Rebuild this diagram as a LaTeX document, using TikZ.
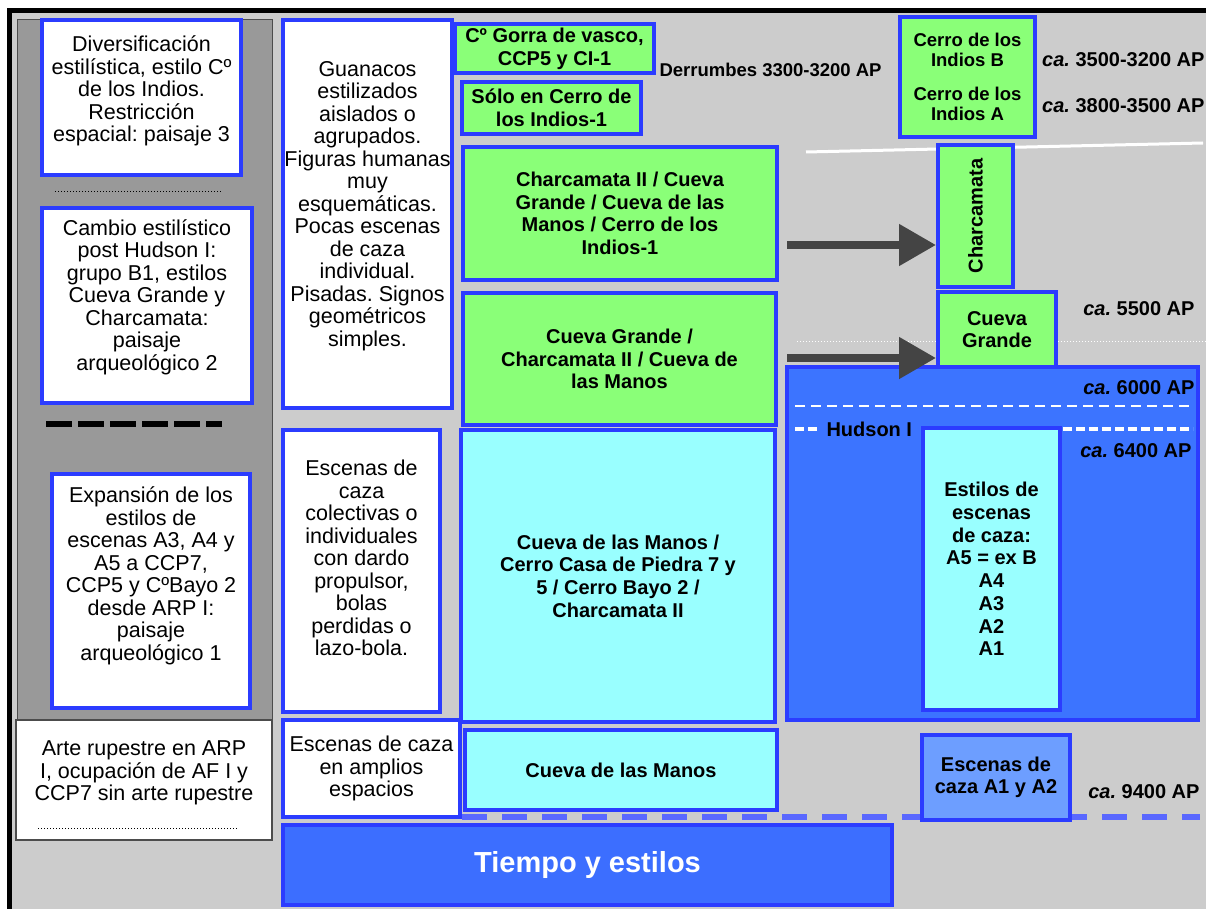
\documentclass[tikz,border=0pt]{standalone}
\usepackage{fontspec}
\setmainfont{Liberation Sans}
\usetikzlibrary{arrows.meta}
\definecolor{boxblue}{HTML}{2B3CFF}
\definecolor{boxgreen}{HTML}{8AFF78}
\definecolor{boxcyan}{HTML}{99FFFF}
\definecolor{bigblue}{HTML}{3C74FF}
\definecolor{timeblue}{HTML}{3C6EFF}
\definecolor{lowblue}{HTML}{6D9EFF}
\definecolor{dashblue}{HTML}{5A68FF}
\definecolor{bglight}{HTML}{CCCCCC}
\definecolor{panelgrey}{HTML}{999999}
\definecolor{arrowgrey}{HTML}{444444}
\newcommand{\regtxt}{\frenchspacing\fontsize{21.5}{22.5}\selectfont}
\newcommand{\boldtxt}{\frenchspacing\bfseries\fontsize{20}{22.7}\selectfont}
\newcommand{\smalltxt}{\frenchspacing\bfseries\fontsize{18.5}{20}\selectfont}

\begin{document}
\begin{tikzpicture}[x=1pt,y=-1pt,line width=1pt,
  box/.style={draw=boxblue,line width=4pt,inner sep=0pt,align=center},
  whitebox/.style={box,fill=white,font=\regtxt},
  greenbox/.style={box,fill=boxgreen,font=\boldtxt},
  cyanbox/.style={box,fill=boxcyan,font=\boldtxt},
  txt/.style={align=center,font=\regtxt,inner sep=0pt},
  datelabel/.style={font=\boldtxt,inner sep=0pt},
  bigarrow/.style={draw=arrowgrey,line width=8pt,-{Triangle[length=37pt,width=40pt]}}]
  \useasboundingbox (0,0) rectangle (1206,909);
  % frame and panels
  \fill[black] (7,8) rectangle (1206,909);
  \fill[bglight] (12,13) rectangle (1206,909);
  \filldraw[fill=panelgrey,draw=black!70] (17,20) rectangle (272,720);
  \draw[dotted] (55,192) -- (222,192);
  \draw[line width=6pt,dash pattern=on 26pt off 6pt] (46,424) -- (222,424);
  % lines behind the boxes
  \draw[white,line width=3pt] (806,152) -- (1203,143);
  \draw[white,dotted] (797,341) -- (1206,341);
  \draw[dashblue,line width=6pt,dash pattern=on 25pt off 15pt] (462,817) -- (1200,817);

  % left column
  \node[whitebox,minimum width=199,minimum height=155](divers) at (141.5,97.5) {};
  \node[txt](diverstext) at (141.5,91) {Diversificación\\estilística, estilo Cº\\de los Indios.\\Restricción\\espacial: paisaje 3};
  \node[whitebox,minimum width=210,minimum height=195](cambio) at (147,305.5) {};
  \node[txt](cambiotext) at (147,297) {Cambio estilístico\\post Hudson I:\\grupo B1, estilos\\Cueva Grande y\\Charcamata:\\paisaje\\arqueológico 2};
  \node[whitebox,minimum width=198,minimum height=234](expan) at (151,591) {};
  \node[txt](expantext) at (151,576) {Expansión de los\\estilos de\\escenas A3, A4 y\\A5 a CCP7,\\CCP5 y CºBayo 2\\desde ARP I:\\paisaje\\arqueológico 1};
  \node[draw=black!70,fill=white,line width=1.5pt,minimum width=256,minimum height=120,inner sep=0pt](arte) at (144,780) {};
  \node[txt](artetext) at (144,773) {Arte rupestre en ARP\\I, ocupación de AF I y\\CCP7 sin arte rupestre};
  \draw[dotted] (38,828) -- (238,828);

  % second column
  \node[whitebox,minimum width=169,minimum height=388](guan) at (367.5,214) {};
  \node[txt](guantext) at (367.5,206) {Guanacos\\estilizados\\aislados o\\agrupados.\\Figuras humanas\\muy\\esquemáticas.\\Pocas escenas\\de caza\\individual.\\Pisadas. Signos\\geométricos\\simples.};
  \node[whitebox,minimum width=157,minimum height=282](colect) at (361.5,571) {};
  \node[txt](colecttext) at (361.5,558) {Escenas de\\caza\\colectivas o\\individuales\\con dardo\\propulsor,\\bolas\\perdidas o\\lazo-bola.};
  \node[whitebox,minimum width=177,minimum height=97](amplios) at (371.5,768.5) {Escenas de caza\\en amplios\\espacios};

  % third column
  \node[greenbox,minimum width=199,minimum height=49](gorra) at (554.5,48.5) {Cº Gorra de vasco,\\CCP5 y CI-1};
  \node[datelabel,font=\smalltxt,anchor=west](derr) at (659,70) {Derrumbes 3300-3200 AP};
  \node[greenbox,minimum width=179,minimum height=52](solo) at (551.5,108) {Sólo en Cerro de\\los Indios-1};
  \node[greenbox,minimum width=314,minimum height=133](chartwo) at (620,213.5) {Charcamata II / Cueva\\Grande / Cueva de las\\Manos / Cerro de los\\Indios-1};
  \node[greenbox,minimum width=313,minimum height=132](cgman) at (619.5,359) {Cueva Grande /\\Charcamata II / Cueva de\\las Manos};
  \node[cyanbox,minimum width=314,minimum height=292](cdm) at (618,576) {Cueva de las Manos /\\Cerro Casa de Piedra 7 y\\5 / Cerro Bayo 2 /\\Charcamata II};
  \node[cyanbox,minimum width=312,minimum height=80](cdmlow) at (621,770) {Cueva de las Manos};
  \node[box,fill=timeblue,text=white,font=\bfseries\fontsize{29}{31}\selectfont,minimum width=609,minimum height=80](tiempo) at (587.5,865) {Tiempo y estilos};

  % fourth column
  \node[greenbox,font=\smalltxt,minimum width=135,minimum height=120](cdi) at (967.5,77) {Cerro de los\\Indios B\\[14pt]Cerro de los\\Indios A};
  \node[datelabel,anchor=east](caA) at (1205,60) {\textit{ca.} 3500-3200 AP};
  \node[datelabel,anchor=east](caB) at (1205,106) {\textit{ca.} 3800-3500 AP};
  \node[greenbox,minimum width=75,minimum height=142](charc) at (975.5,216) {\rotatebox{90}{Charcamata}};
  \node[greenbox,minimum width=118,minimum height=75](cgr) at (997,329.5) {Cueva\\Grande};
  \node[datelabel,anchor=east](caC) at (1195,309) {\textit{ca.} 5500 AP};
  \node[box,fill=bigblue,minimum width=411,minimum height=353](hudbox) at (992.5,543.5) {};
  \draw[white,line width=1.5pt,dash pattern=on 10pt off 6pt] (795,406) -- (1193,406);
  \draw[white,line width=4pt,dash pattern=on 9pt off 4pt] (795,429) -- (820,429);
  \draw[white,line width=4pt,dash pattern=on 9pt off 4pt] (1063,429) -- (1193,429);
  \node[datelabel,anchor=east](caD) at (1195,388) {\textit{ca.} 6000 AP};
  \node[datelabel,anchor=west](hudson) at (826,429) {Hudson I};
  \node[datelabel,anchor=east](caE) at (1192,451) {\textit{ca.} 6400 AP};
  \node[cyanbox,minimum width=137,minimum height=282](estilos) at (991.5,569) {Estilos de\\escenas\\de caza:\\A5 = ex B\\A4\\A3\\A2\\A1};
  \node[box,fill=lowblue,font=\bfseries\fontsize{20}{22}\selectfont,minimum width=148,minimum height=85](aonetwo) at (996,777.5) {Escenas de\\caza A1 y A2};
  \node[datelabel,anchor=east](caF) at (1200,792) {\textit{ca.} 9400 AP};

  % arrows
  \coordinate (arrA) at (787,245);
  \coordinate (arrB) at (787,358);
  \draw[bigarrow] (arrA) -- (arrA -| charc.west);
  \draw[bigarrow] (arrB) -- (arrB -| cgr.west);
\end{tikzpicture}
\end{document}
